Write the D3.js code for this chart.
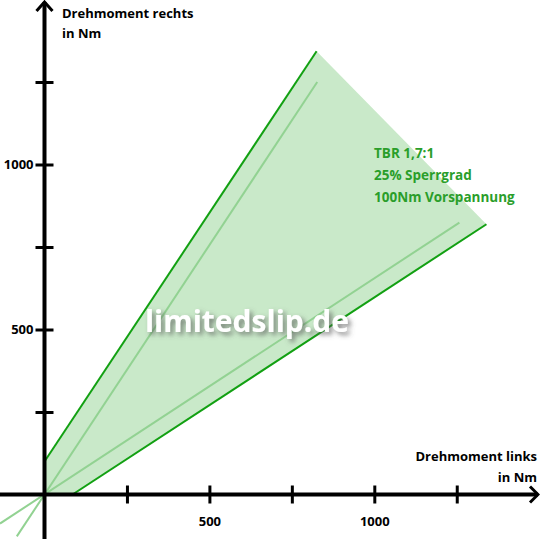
<!DOCTYPE html>
<html>
<head>
<meta charset="utf-8">
<script src="https://cdn.jsdelivr.net/npm/d3@7"></script>
<style>
  html, body { margin: 0; padding: 0; background: #fff; }
  svg { display: block; }
  text { font-family: "Open Sans", sans-serif; }
</style>
</head>
<body>
<svg class="chart"></svg>
<script>
const W = 540, H = 539;

// torque curves in Nm: [links, rechts]
const upperLimit = [[0, 100], [825, 1343]];
const lowerLimit = [[85, 0], [1340, 819]];
const upperRatio = [[-84, -127], [827, 1250]];
const lowerRatio = [[-135, -88], [1258, 824]];
const bandArea = [[0, 0], [0, 100], [825, 1343], [1340, 819], [85, 0]];

const tickValues = [250, 500, 750, 1000, 1250];
const labelledTicks = [500, 1000];
const infoLines = ["TBR 1,7:1", "25% Sperrgrad", "100Nm Vorspannung"];

const svg = d3.select(".chart")
    .attr('width', W)
    .attr('height', H);

const x = d3.scaleLinear().domain([0, 1000]).range([44.5, 374.3]);
const y = d3.scaleLinear().domain([0, 1000]).range([494.5, 164.5]);

const line = d3.line().x(d => x(d[0])).y(d => y(d[1]));

svg.append('path')
    .datum(bandArea)
    .attr('d', line.curve(d3.curveLinearClosed))
    .style('fill', '#c9e9c9')
    .style('stroke', 'none');

line.curve(d3.curveLinear);

[upperRatio, lowerRatio].forEach(d => {
    svg.append('path')
        .datum(d)
        .attr('d', line)
        .style('fill', 'none')
        .style('stroke', '#92d292')
        .style('stroke-width', 2);
});

[upperLimit, lowerLimit].forEach(d => {
    svg.append('path')
        .datum(d)
        .attr('d', line)
        .style('fill', 'none')
        .style('stroke', '#12a012')
        .style('stroke-width', 2);
});

// axes
const fmt = d => labelledTicks.includes(d) ? d : "";

const xAxis = svg.append('g')
    .attr('transform', `translate(0,${y(0)})`)
    .call(d3.axisBottom(x).tickValues(tickValues).tickSize(9).tickPadding(13).tickFormat(fmt));

const yAxis = svg.append('g')
    .attr('transform', `translate(${x(0)},0)`)
    .call(d3.axisLeft(y).tickValues(tickValues).tickSize(9).tickPadding(2).tickFormat(fmt));

xAxis.selectAll('.tick line').attr('y1', -9);
yAxis.selectAll('.tick line').attr('x1', 9);
[xAxis, yAxis].forEach(a => {
    a.select('.domain').remove();
    a.selectAll('.tick line').style('stroke', '#000').style('stroke-width', 3);
    a.selectAll('.tick text')
        .style('font-size', '13px')
        .style('font-weight', 700)
        .style('fill', '#000');
});

svg.append('line')
    .attr('x1', 0).attr('x2', W - 2)
    .attr('y1', y(0)).attr('y2', y(0))
    .style('stroke', '#000').style('stroke-width', 4);
svg.append('line')
    .attr('x1', x(0)).attr('x2', x(0))
    .attr('y1', H).attr('y2', 2)
    .style('stroke', '#000').style('stroke-width', 4);

// arrow heads
svg.append('path')
    .attr('d', `M${x(0) - 8},${11} L${x(0)},${2} L${x(0) + 8},${11}`)
    .style('fill', 'none').style('stroke', '#000').style('stroke-width', 3);
svg.append('path')
    .attr('d', `M${W - 10},${y(0) - 8} L${W - 2},${y(0)} L${W - 10},${y(0) + 8}`)
    .style('fill', 'none').style('stroke', '#000').style('stroke-width', 3);

// axis titles
const title = (tx, ty, anchor, s) => svg.append('text')
    .attr('x', tx).attr('y', ty)
    .attr('text-anchor', anchor)
    .style('font-size', '13px')
    .style('font-weight', 700)
    .style('fill', '#000')
    .text(s);

title(62, 18, 'start', 'Drehmoment rechts');
title(62, 38, 'start', 'in Nm');
title(537, 461, 'end', 'Drehmoment links');
title(537, 482, 'end', 'in Nm');

// info text
svg.selectAll('.info')
    .data(infoLines)
    .enter().append('text')
    .attr('class', 'info')
    .attr('x', 374)
    .attr('y', (d, i) => 158 + i * 22)
    .style('font-size', '13.5px')
    .style('font-weight', 700)
    .style('fill', '#2a9e2a')
    .text(d => d);

// watermark
const defs = svg.append('defs');
const f = defs.append('filter').attr('id', 'shadow')
    .attr('x', '-20%').attr('y', '-40%').attr('width', '140%').attr('height', '180%');
f.append('feDropShadow')
    .attr('dx', 3).attr('dy', 3).attr('stdDeviation', 2.5)
    .attr('flood-color', '#555').attr('flood-opacity', 0.7);

svg.append('text')
    .attr('x', 247)
    .attr('y', 332)
    .attr('text-anchor', 'middle')
    .attr('filter', 'url(#shadow)')
    .style('font-size', '30px')
    .style('font-weight', 700)
    .style('fill', '#fff')
    .text('limitedslip.de');
</script>
</body>
</html>
